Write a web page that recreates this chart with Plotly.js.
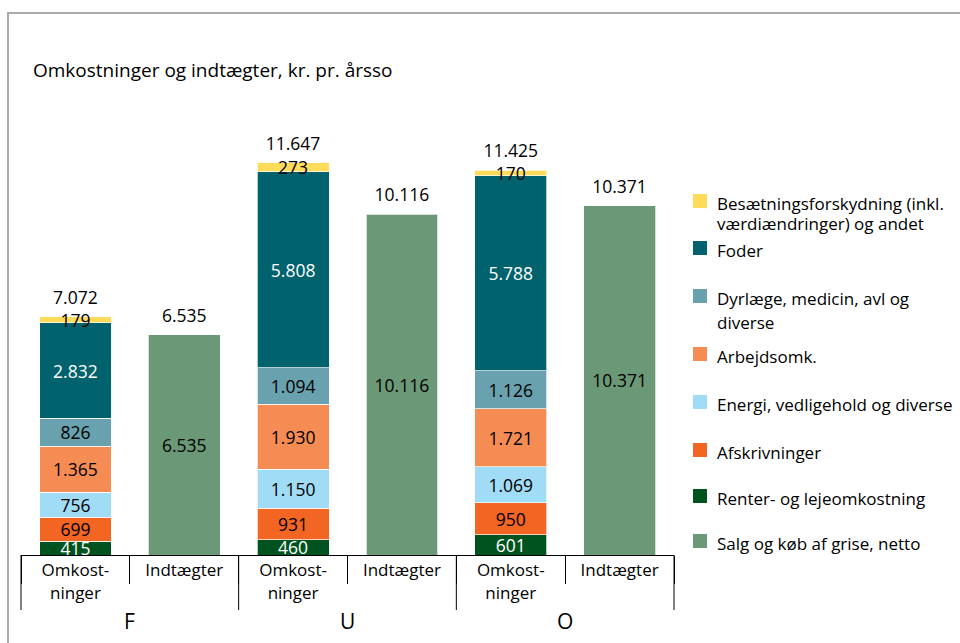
<!DOCTYPE html>
<html><head><meta charset="utf-8">
<script src="https://cdn.plot.ly/plotly-3.0.1.min.js"></script>
<style>
html,body{margin:0;padding:0;background:#fff;}
#wrap{position:relative;width:960px;height:643px;overflow:hidden;}
#chart{position:absolute;left:0;top:0;width:960px;height:643px;}
#frame{position:absolute;left:7px;top:12px;width:1000px;height:700px;border-left:2px solid #ababab;border-top:2px solid #ababab;pointer-events:none;}
</style></head><body>
<div id="wrap"><div id="chart"></div><div id="frame"></div></div>
<script>
// ---------- data ----------
const groups = ["F", "U", "O"];
const subCats = ["Omkost-<br>ninger", "Indtægter"];

const renter       = [415, 460, 601];
const afskrivning  = [699, 931, 950];
const energi       = [756, 1150, 1069];
const arbejdsomk   = [1365, 1930, 1721];
const dyrlaege     = [826, 1094, 1126];
const foder        = [2832, 5808, 5788];
const besaetning   = [179, 273, 170];
const salg         = [6535, 10116, 10371];
const costTotals   = [7072, 11647, 11425];

const nameRenter     = "Renter- og lejeomkostning";
const nameAfskriv    = "Afskrivninger";
const nameEnergi     = "Energi, vedligehold og diverse";
const nameArbejds    = "Arbejdsomk.";
const nameDyrlaege   = "Dyrlæge, medicin, avl og<br>diverse";
const nameFoder      = "Foder";
const nameBesaetning = "Besætningsforskydning (inkl.<br>værdiændringer) og andet";
const nameSalg       = "Salg og køb af grise, netto";

const titleText = "Omkostninger og indtægter, kr. pr. årsso";

// ---------- helpers ----------
const FONT = "Open Sans, Noto Sans, sans-serif";
const VAL_SIZE = 17.5;
function fmt(v) {
  const s = String(Math.round(v));
  return s.replace(/\B(?=(\d{3})+(?!\d))/g, ".");
}
// unique category keys, displayed through ticktext
const catKey = (g, k) => g + "|" + k;
const xOmk = groups.map(g => catKey(g, 0));
const xInd = groups.map(g => catKey(g, 1));
const xAll = [], tickText = [], allTotals = [];
groups.forEach((g, i) => {
  subCats.forEach((s, k) => { xAll.push(catKey(g, k)); tickText.push(s); });
  allTotals.push(costTotals[i]); allTotals.push(salg[i]);
});

const segLine = {color: "rgba(255,255,255,0.7)", width: 1};
function barTrace(name, x, vals, color, txtColor) {
  return {
    type: "bar", name: name, x: x, y: vals,
    marker: {color: color, line: segLine},
    text: vals.map(fmt), textposition: "inside", insidetextanchor: "middle",
    constraintext: "none", textangle: 0,
    textfont: {family: FONT, size: VAL_SIZE, color: txtColor},
    hoverinfo: "y+name", showlegend: false
  };
}

const COL = {
  renter: "#00531f", afskriv: "#f26522", energi: "#a0dcf6", arbejds: "#f58c54",
  dyrlaege: "#69a2ae", foder: "#00626d", besaetning: "#ffdb5a", salg: "#6b9877"
};

const data = [
  barTrace(nameRenter,     xOmk, renter,      COL.renter,     "#ffffff"),
  barTrace(nameAfskriv,    xOmk, afskrivning, COL.afskriv,    "#000000"),
  barTrace(nameEnergi,     xOmk, energi,      COL.energi,     "#000000"),
  barTrace(nameArbejds,    xOmk, arbejdsomk,  COL.arbejds,    "#000000"),
  barTrace(nameDyrlaege,   xOmk, dyrlaege,    COL.dyrlaege,   "#000000"),
  barTrace(nameFoder,      xOmk, foder,       COL.foder,      "#ffffff"),
  barTrace(nameBesaetning, xOmk, besaetning,  COL.besaetning, "#000000"),
  barTrace(nameSalg,       xInd, salg,        COL.salg,       "#000000"),
  {
    type: "scatter", mode: "markers+text", x: xAll, y: allTotals,
    text: allTotals.map(fmt), textposition: "top center",
    textfont: {family: FONT, size: VAL_SIZE, color: "#000000"},
    marker: {size: 12, color: "rgba(0,0,0,0)"},
    hoverinfo: "skip", showlegend: false, cliponaxis: false
  }
];

// ---------- layout geometry (pixels) ----------
const W = 960, H = 643;
const M = {l: 21, r: 286, t: 134, b: 88};
const PW = W - M.l - M.r, PH = H - M.t - M.b;
const px2x = px => (px - M.l) / PW;
const px2y = py => (H - M.b - py) / PH;
const nCat = xAll.length;

const shapes = [], annotations = [];

// group dividers and group labels under the axis
for (let g = 0; g <= groups.length; g++) {
  const xp = (g * subCats.length) / nCat;
  shapes.push({type: "line", xref: "paper", yref: "paper", x0: xp, x1: xp,
    y0: 0, y1: px2y(610), line: {color: "#000", width: 1}});
}
groups.forEach((g, i) => {
  annotations.push({xref: "paper", yref: "paper",
    x: (i * subCats.length + subCats.length / 2) / nCat, y: px2y(621),
    xanchor: "center", yanchor: "middle", showarrow: false, text: g,
    font: {family: FONT, size: 21, color: "#000"}});
});

// custom legend (top to bottom)
const legendItems = [
  {name: nameBesaetning, color: COL.besaetning, lines: [203, 223]},
  {name: nameFoder,      color: COL.foder,      lines: [250]},
  {name: nameDyrlaege,   color: COL.dyrlaege,   lines: [298, 322]},
  {name: nameArbejds,    color: COL.arbejds,    lines: [356]},
  {name: nameEnergi,     color: COL.energi,     lines: [404]},
  {name: nameAfskriv,    color: COL.afskriv,    lines: [452]},
  {name: nameRenter,     color: COL.renter,     lines: [498]},
  {name: nameSalg,       color: COL.salg,       lines: [543]}
];
legendItems.forEach(it => {
  const cy = it.lines[0] - 2;
  shapes.push({type: "rect", xref: "paper", yref: "paper",
    x0: px2x(693), x1: px2x(707), y0: px2y(cy + 7), y1: px2y(cy - 7),
    fillcolor: it.color, line: {width: 0}});
  it.name.split("<br>").forEach((ln, k) => {
    annotations.push({xref: "paper", yref: "paper", x: px2x(715), y: px2y(it.lines[k]),
      xanchor: "left", yanchor: "middle", showarrow: false, text: ln,
      font: {family: FONT, size: 17, color: "#000"}});
  });
});

const layout = {
  width: W, height: H, margin: M,
  paper_bgcolor: "#ffffff", plot_bgcolor: "#ffffff",
  barmode: "stack", bargap: 0.34,
  showlegend: false,
  title: {text: titleText, xref: "container", yref: "container",
    x: 33 / W, xanchor: "left", y: 1 - 70 / H, yanchor: "middle",
    font: {family: FONT, size: 19, color: "#000"}},
  xaxis: {type: "category", categoryorder: "array", categoryarray: xAll,
    range: [-0.5, nCat - 0.5],
    tickmode: "array", tickvals: xAll, ticktext: tickText, tickson: "boundaries",
    showline: true, linecolor: "#000", linewidth: 1,
    ticks: "outside", ticklen: 28, tickcolor: "#000", tickwidth: 1,
    tickfont: {family: FONT, size: 17, color: "#000"},
    showgrid: false, zeroline: false, fixedrange: true},
  yaxis: {range: [0, 12500], visible: false, showgrid: false, zeroline: false, fixedrange: true},
  shapes: shapes, annotations: annotations,
  font: {family: FONT, color: "#000"}
};

Plotly.newPlot("chart", data, layout, {displayModeBar: false, staticPlot: true});
</script>
</body></html>
